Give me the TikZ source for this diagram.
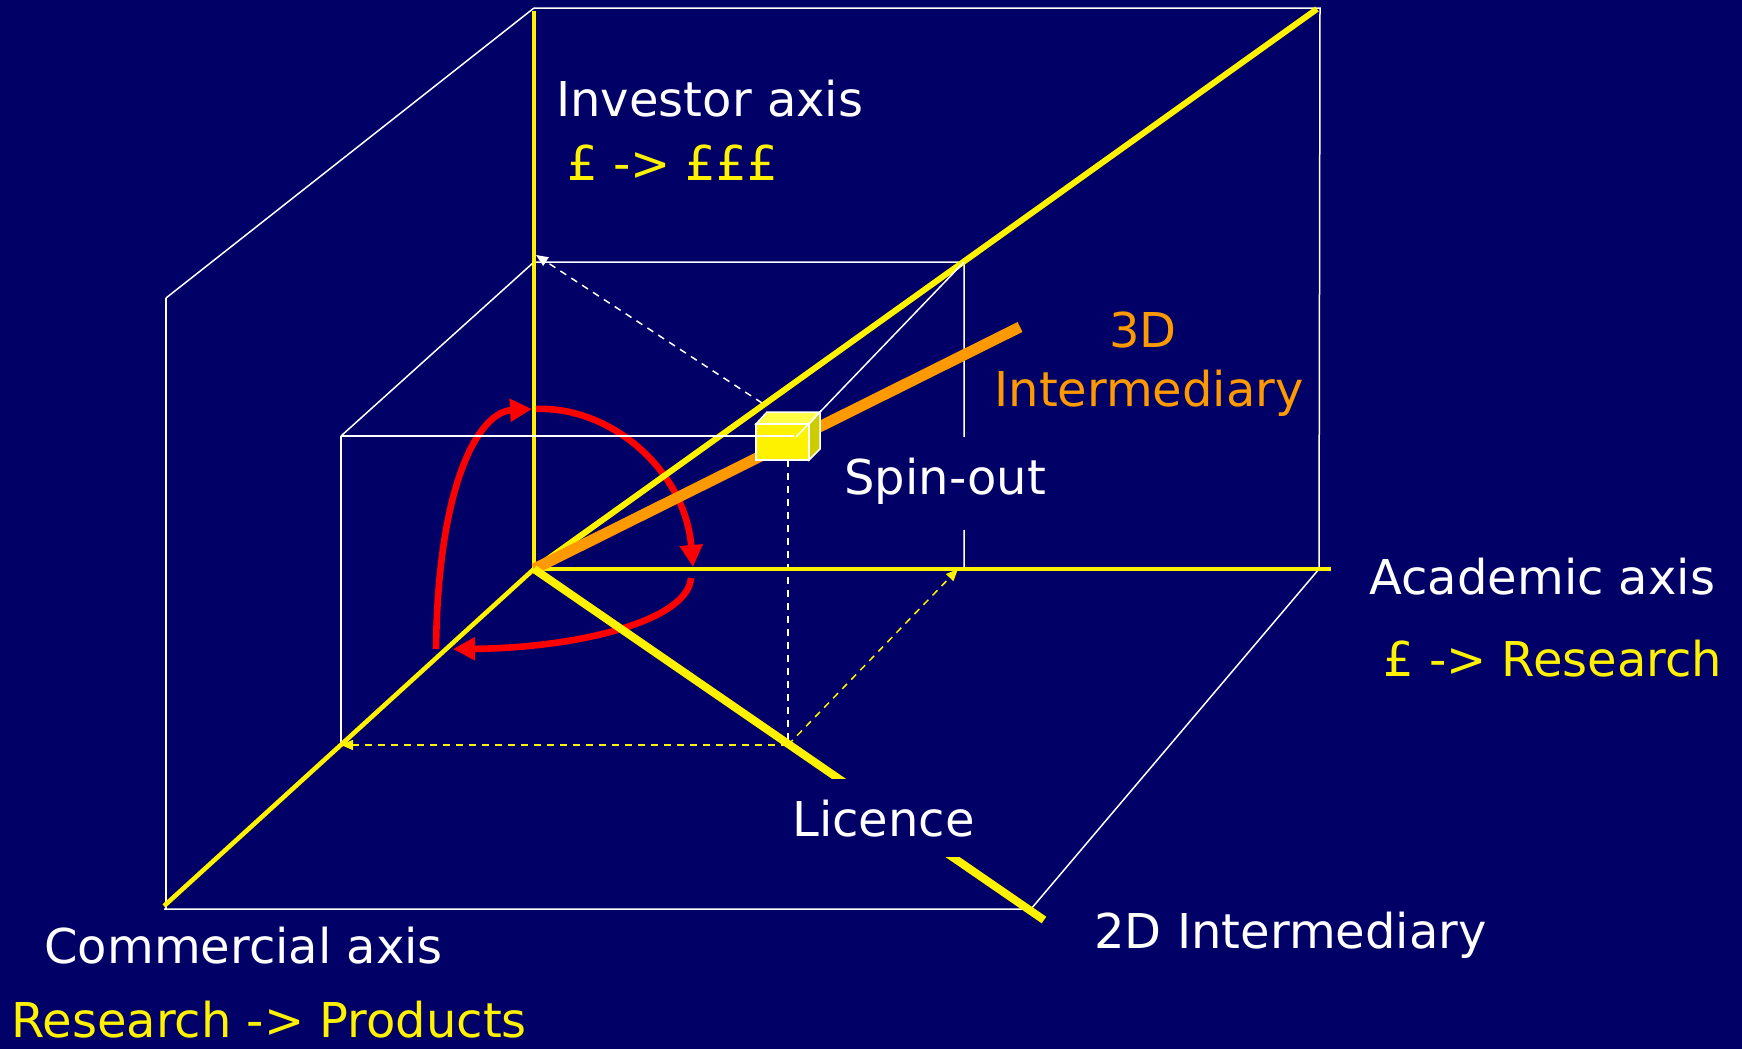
\documentclass[tikz,border=0pt]{standalone}
\usepackage{fontspec}
\setmainfont{DejaVu Sans}
\usetikzlibrary{arrows.meta}
\definecolor{navy}{RGB}{0,0,102}
\definecolor{orng}{RGB}{255,153,0}
\definecolor{cubeside}{RGB}{204,204,0}
\definecolor{cubetop}{RGB}{255,255,70}

\begin{document}
\begin{tikzpicture}[x=0.5pt, y=-0.5pt,
    wire/.style={white, line width=0.75pt},
    axis/.style={yellow, line width=2.3pt},
    proj/.style={line width=0.75pt, dash pattern=on 3.5pt off 3pt},
    tip/.style={-{Triangle[length=6pt,width=5pt]}},
    turn/.style={red, line width=3.3pt, -{Triangle[length=11pt,width=11pt]}},
    lbl/.style={inner sep=0pt, anchor=base west, font=\fontsize{24}{29}\selectfont},
    gap/.style={fill=navy, text=white, inner xsep=2pt, inner ysep=10.5pt, text height=18pt}]
  % Background
  \fill[navy] (0,0) rectangle (1742,1049);

  % Axis points
  \coordinate (O) at (534,569);
  \coordinate (invTop) at (534,11);
  \coordinate (acaEnd) at (1331,569);
  \coordinate (comEnd) at (164,906);
  \coordinate (backEnd) at (1317,9);
  \coordinate (twoDEnd) at (1044,920);
  \coordinate (threeDEnd) at (1020,327);

  % Outer box
  \coordinate (bTL) at (534,8);
  \coordinate (bTR) at (1320,8);
  \coordinate (bBR) at (1319,569);
  \coordinate (fTL) at (166,298);
  \coordinate (fBL) at (164,909);
  \coordinate (fBR) at (1031,909);
  \draw[wire] (bTL) -- (bTR) -- (bBR) -- (fBR) -- (fBL);
  \draw[wire] (fTL) -- (bTL);
  \draw[wire] (fTL) -- (166,909);

  % Inner box
  \coordinate (iTL) at (534,262);
  \coordinate (iTR) at (964,262);
  \coordinate (iBR) at (964,569);
  \coordinate (iFL) at (341,436);
  \coordinate (iBL) at (341,745);
  \coordinate (cBack) at (796,437);
  \draw[wire] (iFL) -- (iTL) -- (iTR) -- (iBR);
  \draw[wire] (iFL) -- (iBL);

  % Projections of the spin-out
  \coordinate (cTop) at (762,403);
  \coordinate (cBot) at (788,460);
  \coordinate (pFloor) at (788,745);
  \coordinate (invMark) at (536,255);
  \coordinate (acaMark) at (958,569);
  \draw[proj, white, tip] (cTop) -- (invMark);
  \draw[proj, white] (cBot) -- (pFloor);
  \draw[proj, yellow, tip] (pFloor) -- (iBL);
  \draw[proj, yellow, tip] (pFloor) -- (acaMark);

  % Routes round the origin
  \draw[turn] (436,649) .. controls (438,480) and (480,412) .. (532,409);
  \draw[turn] (534,409) .. controls (610,405) and (685,470) .. (693,567);
  \draw[turn] (691,578) .. controls (688,620) and (580,648) .. (453,649);

  % Axes
  \draw[axis] (O) -- (invTop);
  \draw[axis] (O) -- (acaEnd);
  \draw[axis] (O) -- (comEnd);
  \draw[axis, line width=3pt] (O) -- (backEnd);
  \draw[orng, line width=5.5pt] (O) -- (threeDEnd);
  \draw[yellow, line width=4pt] (O) -- (twoDEnd);

  % Spin-out cube
  \fill[cubetop, draw=white, line width=0.75pt] (756,424) -- (767,412) -- (820,412) -- (809,424) -- cycle;
  \fill[cubeside, draw=white, line width=0.75pt] (809,424) -- (820,412) -- (820,449) -- (809,460) -- cycle;
  \fill[yellow, draw=white, line width=0.75pt] (756,424) rectangle (809,460);
  \draw[wire] (iFL) -- (794,436);
  \draw[wire] (iTR) -- (cBack);

  % Labels
  \node[lbl, white] (inv) at (556,116) {Investor axis};
  \node[lbl, yellow] (invSub) at (567,180) {£ -> £££};
  \node[lbl, orng] (threeD) at (1109,347) {3D};
  \node[lbl, orng] (interm) at (994,406) {Intermediary};
  \node[lbl, gap, text depth=7.5pt] (spin) at (840,494) {Spin-out};
  \node[lbl, white] (aca) at (1369,594) {Academic axis};
  \node[lbl, yellow] (acaSub) at (1383,676) {£ -> Research};
  \node[lbl, gap, text depth=0pt] (lic) at (788,836) {Licence};
  \node[lbl, white] (twoD) at (1094,948) {2D Intermediary};
  \node[lbl, white] (com) at (44,963) {Commercial axis};
  \node[lbl, yellow, text depth=0pt] (comSub) at (11,1037) {Research -> Products};
\end{tikzpicture}
\end{document}
